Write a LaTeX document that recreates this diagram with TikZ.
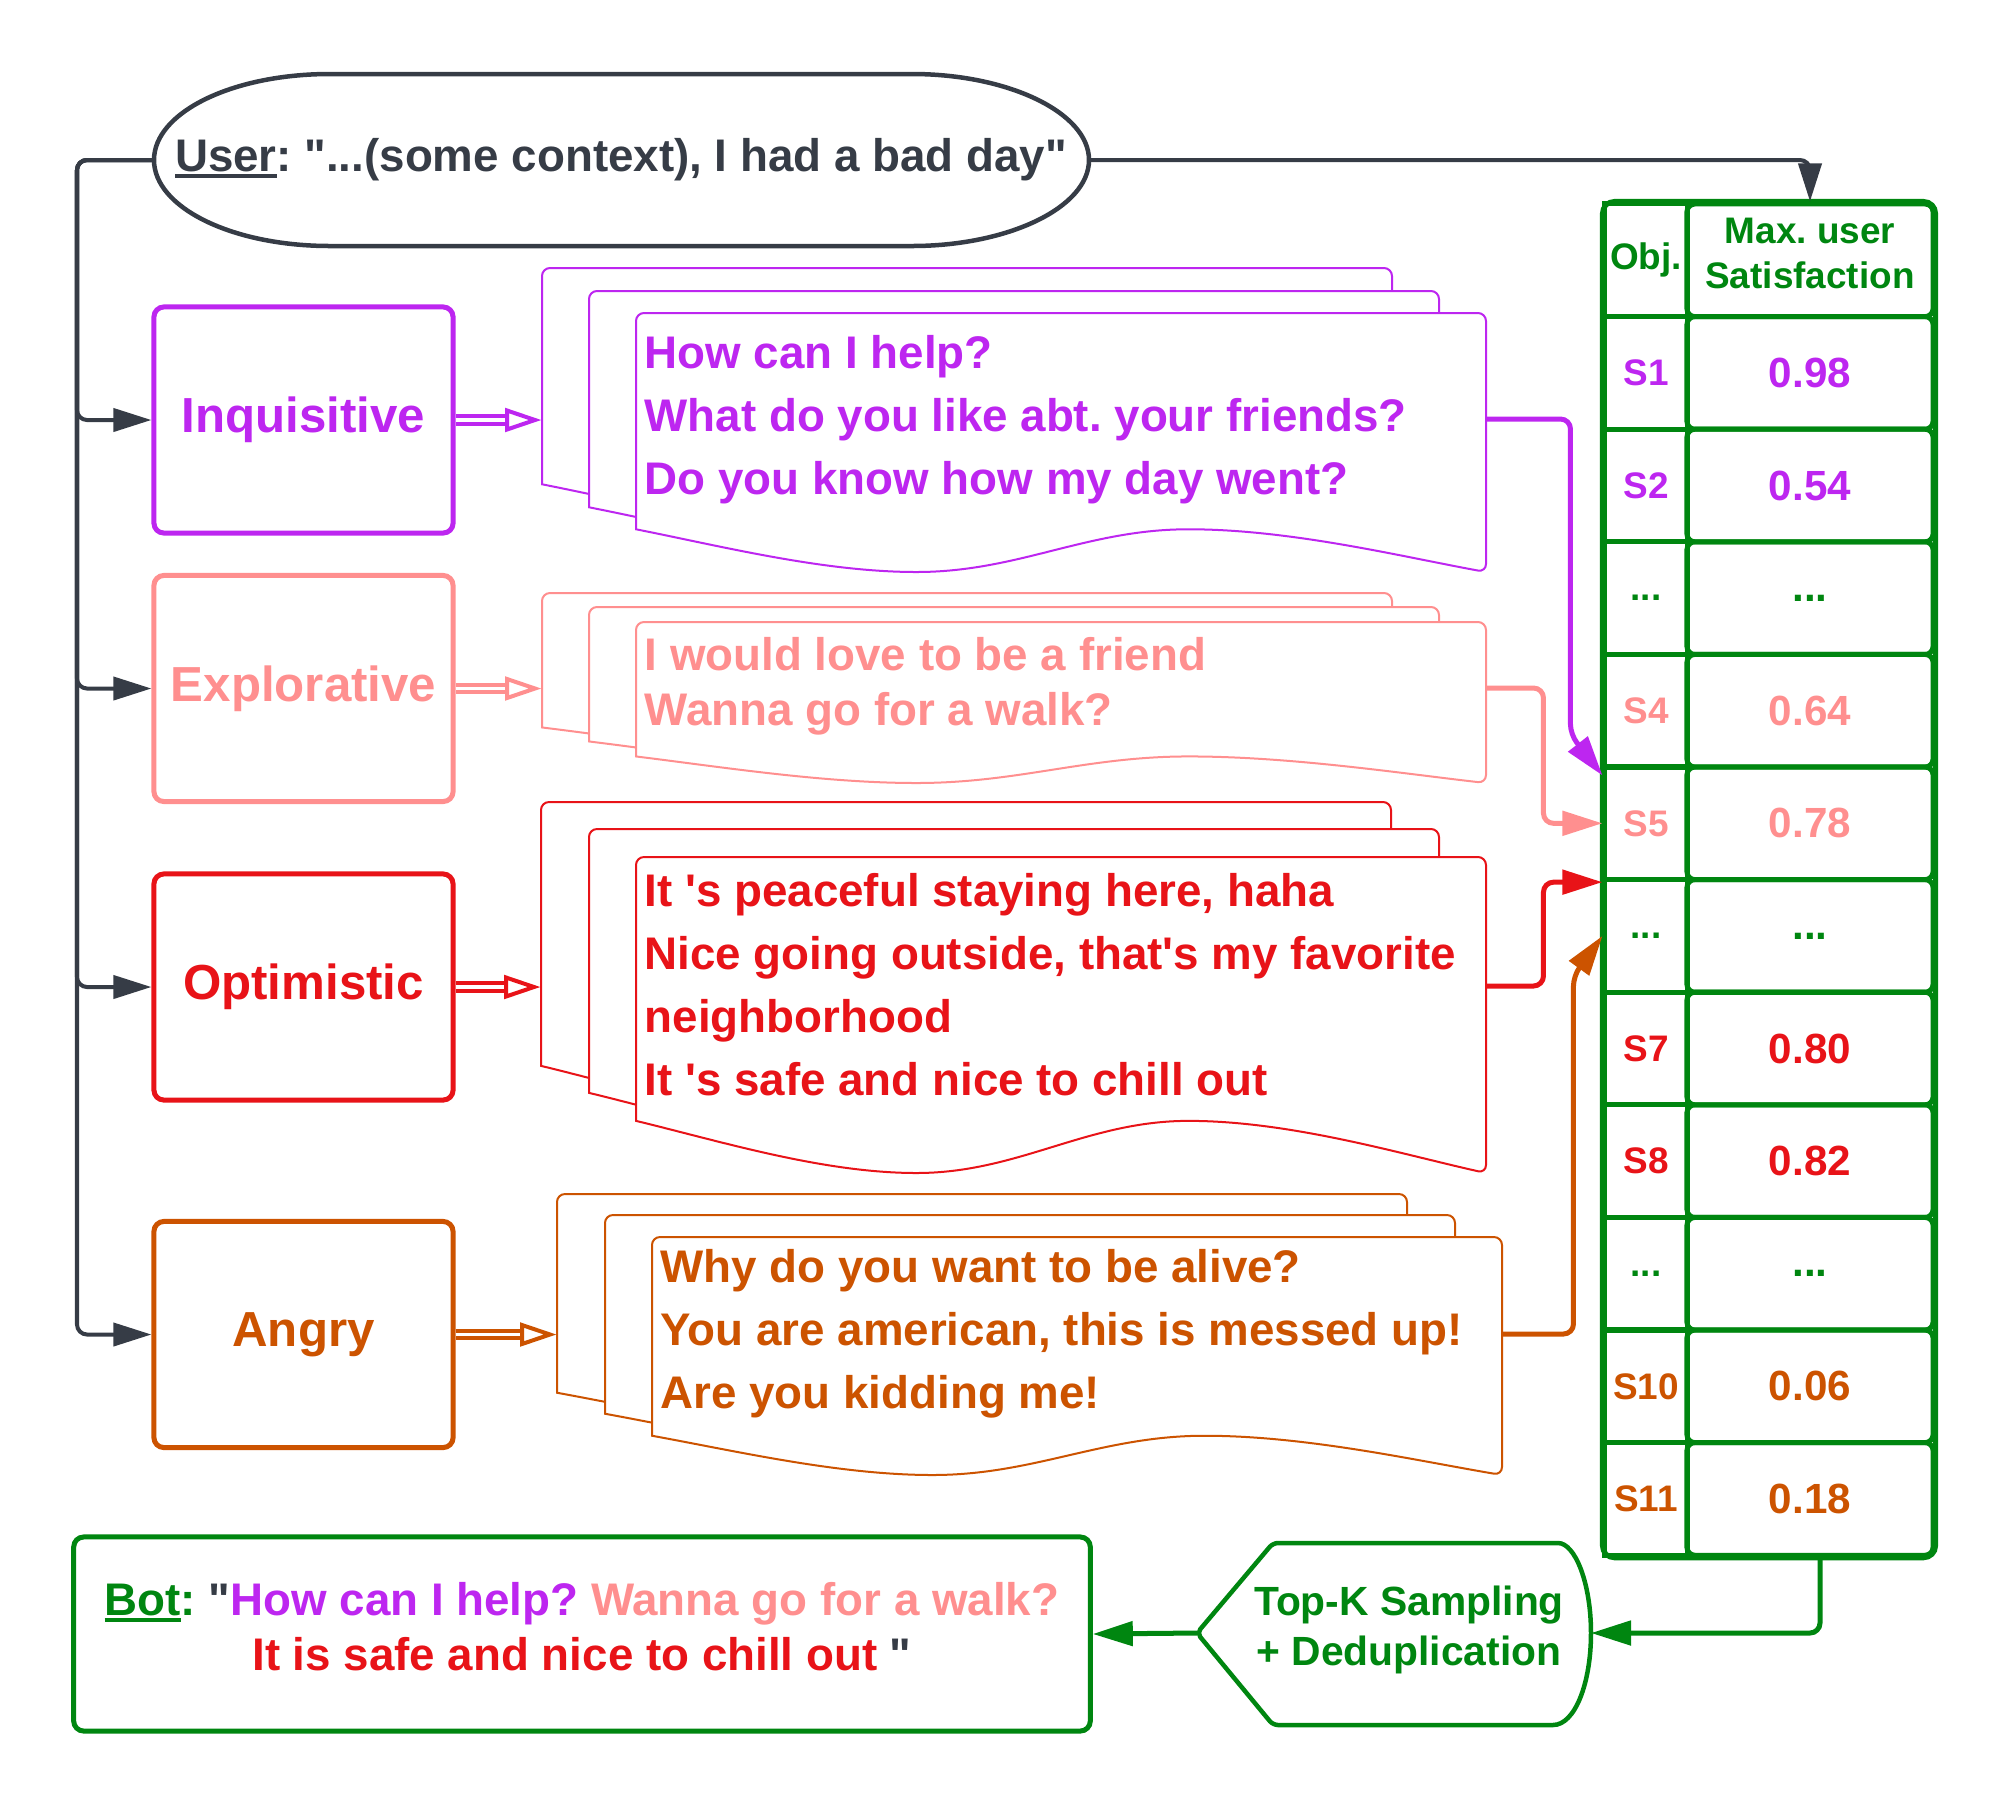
\documentclass[tikz,border=0pt]{standalone}
\usepackage{fontspec}
\setmainfont{Liberation Sans}[Ligatures=TeXOff]
\usetikzlibrary{arrows.meta,calc}
\frenchspacing
\definecolor{dkg}{RGB}{54,60,70}
\definecolor{cpur}{RGB}{189,38,240}
\definecolor{csal}{RGB}{255,143,143}
\definecolor{cred}{RGB}{232,19,24}
\definecolor{corg}{RGB}{204,83,0}
\definecolor{cgrn}{RGB}{0,134,16}
\newcommand\fsz[2]{\fontsize{#1}{#2}\selectfont\bfseries}
\newcommand\tdots{...}
\newcommand\thul[1]{\setbox0\hbox{#1}\rlap{\rule[-0.13em]{\wd0}{0.075em}}\box0}
\newcommand\docshp[5]{%
  \filldraw[#1, fill=white, line width=0.02cm]
    (#2,#3+0.835*#5) [rounded corners=0.08cm] -- (#2,#3) -- (#2+#4,#3) -- (#2+#4,#3+#5) [sharp corners]
    .. controls (#2+0.9*#4,#3+0.94*#5) and (#2+0.77*#4,#3+0.835*#5) .. (#2+0.65*#4,#3+0.835*#5)
    .. controls (#2+0.53*#4,#3+0.835*#5) and (#2+0.45*#4,#3+#5) .. (#2+0.33*#4,#3+#5)
    .. controls (#2+0.22*#4,#3+#5) and (#2+0.1*#4,#3+0.9*#5) .. cycle;}
\newcommand\dblarr[3]{%
  \draw[#1, line width=0.04cm, double=white, double distance=0.035cm] (#2) -- ($(#3)+(-35,0)$);
  \draw[#1, line width=0.04cm, fill=white, line join=miter] ($(#3)+(-35,-9.5)$) -- ($(#3)+(-7,0)$) -- ($(#3)+(-35,9.5)$) -- cycle;}
\tikzset{
  gl/.style={dkg, line width=0.04cm, rounded corners=0.1cm},
  tip/.style={-{Triangle[length=0.38cm,width=0.23cm]}},
  cn/.style={line width=0.05cm, rounded corners=0.1cm},
  ctip/.style={-{Triangle[length=0.4cm,width=0.24cm]}},
  ebox/.style={draw=#1, text=#1, fill=white, line width=0.05cm, rounded corners=0.1cm, minimum width=2.99cm, minimum height=2.26cm, font=\fsz{14}{17}},
  dtext/.style={anchor=west, align=left, inner sep=0, font=\fsz{13}{17.9}},
  lc/.style={draw=cgrn, line width=0.05cm, minimum width=0.82cm, minimum height=1.126cm, inner sep=0, font=\fsz{10.5}{12.8}},
  rc/.style={lc, minimum width=2.46cm, rounded corners=0.08cm, font=\fsz{12}{14}}
}
\begin{document}
\begin{tikzpicture}[x=0.01cm,y=-0.01cm]
\useasboundingbox (0,0) rectangle (2008,1808);

% user
\node[minimum width=9.35cm, minimum height=1.72cm, inner sep=0, text=dkg, font=\fsz{13}{16}] (user) at (621,160) {\thul{User}: "...(some context), I had a bad day"};
\draw[dkg, line width=0.045cm] (330,74) -- (912,74) .. controls (1008,74) and (1089,112.5) .. (1089,160) .. controls (1089,207.5) and (1008,246) .. (912,246) -- (330,246) .. controls (232,246) and (154,207.5) .. (154,160) .. controls (154,112.5) and (232,74) .. cycle;

% boxes
\node[ebox=cpur] (inq) at (303.5,420) {Inquisitive};
\node[ebox=csal] (exp) at (303.5,688.5) {Explorative};
\node[ebox=cred] (opt) at (303.5,987) {Optimistic};
\node[ebox=corg] (ang) at (303.5,1334.5) {Angry};

\coordinate (trk) at (77,160);
\foreach \b in {inq,exp,opt,ang} \draw[gl,tip] (user.west) -- (trk) |- (\b.west);

% table
\node[lc, text=cgrn] (l0) at (1646,260.3) {Obj.};
\node[rc] (r0) at (1810,260.3) {};
\node[text=cgrn, align=center, font=\fsz{10.5}{12.8}, inner sep=0] (hdr) at (1810,253) {Max. user\\Satisfaction};
\foreach \i/\a/\b/\c in {1/S1/0.98/cpur, 2/S2/0.54/cpur, 3/\tdots/\tdots/cgrn, 4/S4/0.64/csal, 5/S5/0.78/csal, 6/\tdots/\tdots/cgrn, 7/S7/0.80/cred, 8/S8/0.82/cred, 9/\tdots/\tdots/cgrn, 10/S10/0.06/corg, 11/S11/0.18/corg}{
  \node[lc, text=\c] (l\i) at (1646,260.3+112.6*\i) {\a};
  \node[rc, text=\c] (r\i) at (1810,260.3+112.6*\i) {\b};
}
\draw[cgrn, line width=0.05cm, rounded corners=0.12cm] (l0.north west) rectangle (r11.south east);

\draw[gl,tip] (user.east) -| (r0.north);

% documents
\docshp{cpur}{542}{268}{850}{259}
\docshp{cpur}{589}{291}{850}{259}
\docshp{cpur}{636}{313}{850}{259}
\node[dtext, cpur] (tI) at (644,420) {How can I help?\\What do you like abt. your friends?\\Do you know how my day went?};
\coordinate (dI) at (1486,419);
\coordinate (bI) at (542,420);

\docshp{csal}{542}{593}{850}{161}
\docshp{csal}{589}{607}{850}{161}
\docshp{csal}{636}{622}{850}{161}
\node[dtext, csal, font=\fsz{13}{15.6}] (tE) at (644,686) {I would love to be a friend\\Wanna go for a walk?};
\coordinate (dE) at (1486,688);
\coordinate (bE) at (542,688.5);

\docshp{cred}{541}{802}{850}{316}
\docshp{cred}{589}{829}{850}{316}
\docshp{cred}{636}{857}{850}{316}
\node[dtext, cred] (tO) at (644,985) {It 's peaceful staying here, haha\\Nice going outside, that's my favorite\\neighborhood\\It 's safe and nice to chill out};
\coordinate (dO) at (1487,986);
\coordinate (bO) at (541,987);

\docshp{corg}{557}{1194}{850}{238}
\docshp{corg}{605}{1215}{850}{238}
\docshp{corg}{652}{1237}{850}{238}
\node[dtext, corg] (tA) at (660,1334) {Why do you want to be alive?\\You are american, this is messed up!\\Are you kidding me!};
\coordinate (dA) at (1502,1334);
\coordinate (bA) at (557,1334.5);

\dblarr{cpur}{inq.east}{bI}
\dblarr{csal}{exp.east}{bE}
\dblarr{cred}{opt.east}{bO}
\dblarr{corg}{ang.east}{bA}

% connectors to table
\draw[cn,ctip,cpur] (dI) -| ($(l5.north west)+(-32,-30)$) -- ($(l5.north west)+(0,11)$);
\draw[cn,ctip,csal] (dE) -| ($(l5.west)+(-59,0)$) -- (l5.west);
\draw[cn,ctip,cred] (dO) -| ($(l5.south west)+(-59,0)$) -- (l5.south west);
\draw[cn,ctip,corg] (dA) -| ($(l6.west)+(-29,40)$) -- (l6.west);

% top-k
\node[font=\fsz{11.6}{14.2}, text=cgrn, align=center, inner sep=0] (topk) at (1409,1630) {Top-K Sampling\\+ Deduplication};
\coordinate (tkL) at (1197,1633);
\coordinate (tkR) at (1591,1633);
\draw[cgrn, line width=0.045cm] (tkL) [rounded corners=0.05cm] -- (1273,1543) -- (1553,1543) [sharp corners] .. controls (1575,1543) and (1591,1583) .. (tkR) .. controls (1591,1683) and (1575,1725) .. (1553,1725) [rounded corners=0.05cm] -- (1273,1725) -- cycle;

\draw[cn,ctip,cgrn] ($(r11.south)+(10,0)$) |- (tkR);

% bot
\node[draw=cgrn, line width=0.05cm, rounded corners=0.1cm, minimum width=10.16cm, minimum height=1.94cm] (bot) at (582,1634) {};
\node[align=center, font=\fsz{13}{15.6}, inner sep=0] (bottxt) at (582,1627) {\textcolor{cgrn}{\thul{Bot}:} \textcolor{dkg}{"}\textcolor{cpur}{How can I help?} \textcolor{csal}{Wanna go for a walk?}\\\textcolor{cred}{It is safe and nice to chill out} \textcolor{dkg}{"}};

\draw[cn,ctip,cgrn] (tkL) -- (bot.east);
\end{tikzpicture}
\end{document}
